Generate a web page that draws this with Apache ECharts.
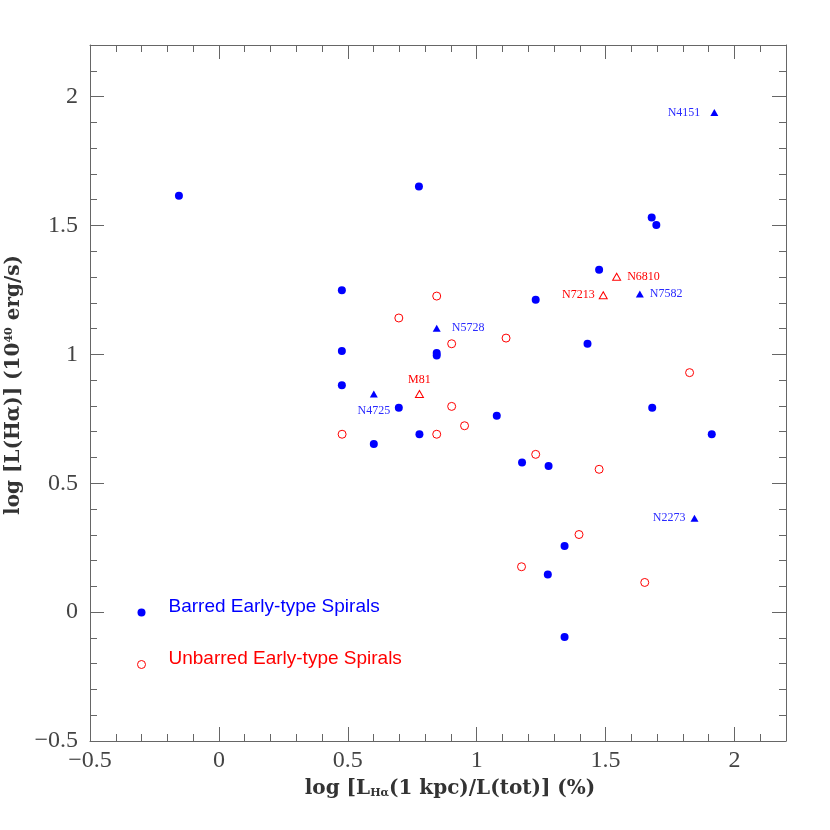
<!DOCTYPE html>
<html>
<head>
<meta charset="utf-8">
<script src="https://cdn.jsdelivr.net/npm/echarts@6/dist/echarts.min.js"></script>
<style>
html, body { margin: 0; background: #fff; }
#chart { width: 830px; height: 830px; }
</style>
</head>
<body>
<div id="chart"></div>
<script>
// barred early-type spirals (filled circles)
var barredX = [-0.155, 0.776, 1.679, 1.697, 1.475, 0.477, 0.477, 0.477, 0.601, 1.229, 1.43, 0.845,
  0.845, 0.698, 1.078, 1.681, 0.778, 1.912, 1.176, 1.279, 1.341, 1.276, 1.341];
var barredY = [1.615, 1.651, 1.531, 1.502, 1.328, 1.249, 1.013, 0.880, 0.652, 1.212, 1.041, 1.005,
  0.995, 0.793, 0.762, 0.793, 0.690, 0.690, 0.580, 0.567, 0.256, 0.146, -0.097];

// unbarred early-type spirals (open circles)
var unbarredX = [0.845, 0.698, 0.903, 1.114, 1.826, 0.903, 0.953, 0.845, 1.229, 1.475, 0.478, 1.397, 1.174, 1.652];
var unbarredY = [1.226, 1.141, 1.041, 1.063, 0.929, 0.798, 0.723, 0.690, 0.612, 0.554, 0.690, 0.301, 0.176, 0.115];

// named galaxies (triangles)
var barredNames = ['N4151', 'N7582', 'N5728', 'N4725', 'N2273'];
var barredNamedX = [1.922, 1.633, 0.845, 0.601, 1.845];
var barredNamedY = [1.938, 1.234, 1.101, 0.846, 0.364];

var unbarredNames = ['N6810', 'N7213', 'M81'];
var unbarredNamedX = [1.543, 1.491, 0.778];
var unbarredNamedY = [1.301, 1.229, 0.846];

var legendNames = ['Barred Early-type Spirals', 'Unbarred Early-type Spirals'];

// where each name label sits relative to its triangle
var labelSide = {
  N4151: ['left', 10], N7582: ['right', 6], N5728: ['right', 11], N4725: ['bottom', 7],
  N2273: ['left', 5], N6810: ['right', 6], N7213: ['left', 4], M81: ['top', 4]
};

var BLUE = '#0000ff';
var RED = '#ff0000';
var AXIS = '#666';
var SERIF = '"Liberation Serif", "DejaVu Serif", serif';

function pairs(xs, ys) {
  return xs.map(function (x, i) { return [x, ys[i]]; });
}

function named(names, xs, ys, color) {
  return names.map(function (n, i) {
    var side = labelSide[n];
    return {
      name: n,
      value: [xs[i], ys[i]],
      label: { show: true, position: side[0], distance: side[1], formatter: n, color: color }
    };
  });
}

function minus(v) {
  return String(v).replace('-', '\u2212');
}

function axis(pos, grid, interval, tickLen, extra) {
  var a = {
    type: 'value',
    gridIndex: grid,
    position: pos,
    min: -0.5,
    max: 2.2,
    interval: interval,
    axisLine: { show: grid === 0, onZero: false, lineStyle: { color: AXIS, width: 1 } },
    axisTick: { inside: true, length: tickLen, lineStyle: { color: AXIS, width: 1 } },
    axisLabel: { show: false },
    splitLine: { show: false }
  };
  return Object.assign(a, extra || {});
}

var tickLabel = {
  show: true,
  color: '#444',
  fontFamily: SERIF,
  fontSize: 24,
  showMaxLabel: false,
  formatter: minus
};

var NAME_FONT = '"DejaVu Serif", serif';
var nameStyle = {
  fontFamily: NAME_FONT,
  fontSize: 20,
  fontWeight: 'bold',
  color: '#333',
  rich: {
    sub: { fontFamily: NAME_FONT, fontSize: 11, fontWeight: 'bold', color: '#333', verticalAlign: 'bottom', padding: [9, 0, 0, 0] },
    sup: { fontFamily: NAME_FONT, fontSize: 11, fontWeight: 'bold', color: '#333', verticalAlign: 'top', padding: [0, 0, 9, 0] }
  }
};

var gridBox = { left: 90, right: 44, top: 45, bottom: 89, containLabel: false, outerBoundsMode: 'none' };

var option = {
  backgroundColor: '#fff',
  animation: false,
  grid: [Object.assign({}, gridBox), Object.assign({}, gridBox)],
  xAxis: [
    axis('bottom', 0, 0.5, 14, {
      axisLabel: Object.assign({ margin: 8 }, tickLabel),
      name: 'log [L{sub|Hα}(1 kpc)/L(tot)] (%)',
      nameLocation: 'middle',
      nameGap: 38,
      nameTextStyle: Object.assign({ padding: [0, 0, 0, 24] }, nameStyle)
    }),
    axis('top', 0, 0.5, 14),
    axis('bottom', 1, 0.1, 7),
    axis('top', 1, 0.1, 7)
  ],
  yAxis: [
    axis('left', 0, 0.5, 14, {
      axisLabel: Object.assign({ margin: 12 }, tickLabel),
      name: 'log [L(Hα)] (10{sup|40} erg/s)',
      nameLocation: 'middle',
      nameGap: 65,
      nameTextStyle: Object.assign({ padding: [0, 0, 0, 16] }, nameStyle)
    }),
    axis('right', 0, 0.5, 14),
    axis('left', 1, 0.1, 7),
    axis('right', 1, 0.1, 7)
  ],
  legend: {
    orient: 'vertical',
    left: 137,
    top: 597,
    padding: 0,
    itemWidth: 44,
    itemHeight: 8,
    itemGap: 21,
    selectedMode: false,
    formatter: '{t|{name}}',
    textStyle: {
      fontFamily: '"Liberation Sans", Arial, sans-serif',
      fontSize: 19,
      rich: { t: { fontFamily: '"Liberation Sans", Arial, sans-serif', fontSize: 19, lineHeight: 22, padding: [0, 0, 12, 0] } }
    },
    data: [
      { name: legendNames[0], icon: 'circle', itemStyle: { color: BLUE }, textStyle: { color: BLUE } },
      { name: legendNames[1], icon: 'circle', itemStyle: { color: 'rgba(0,0,0,0)', borderColor: RED, borderWidth: 1 }, textStyle: { color: RED } }
    ]
  },
  series: [
    {
      name: legendNames[0],
      type: 'scatter',
      xAxisIndex: 0, yAxisIndex: 0,
      symbol: 'circle',
      symbolSize: 8,
      itemStyle: { color: BLUE, opacity: 1 },
      data: pairs(barredX, barredY)
    },
    {
      name: legendNames[1],
      type: 'scatter',
      xAxisIndex: 0, yAxisIndex: 0,
      symbol: 'circle',
      symbolSize: 8,
      itemStyle: { color: 'rgba(0,0,0,0)', borderColor: RED, borderWidth: 1, opacity: 1 },
      data: pairs(unbarredX, unbarredY)
    },
    {
      name: 'barred named',
      type: 'scatter',
      xAxisIndex: 0, yAxisIndex: 0,
      symbol: 'triangle',
      symbolSize: [8, 7],
      itemStyle: { color: BLUE, opacity: 1 },
      label: { fontFamily: SERIF, fontSize: 12 },
      data: named(barredNames, barredNamedX, barredNamedY, '#2a2aff')
    },
    {
      name: 'unbarred named',
      type: 'scatter',
      xAxisIndex: 0, yAxisIndex: 0,
      symbol: 'triangle',
      symbolSize: [8, 7],
      itemStyle: { color: 'rgba(0,0,0,0)', borderColor: RED, borderWidth: 1, opacity: 1 },
      label: { fontFamily: SERIF, fontSize: 12 },
      data: named(unbarredNames, unbarredNamedX, unbarredNamedY, RED)
    }
  ]
};

var chart = echarts.init(document.getElementById('chart'));
chart.setOption(option);
</script>
</body>
</html>
